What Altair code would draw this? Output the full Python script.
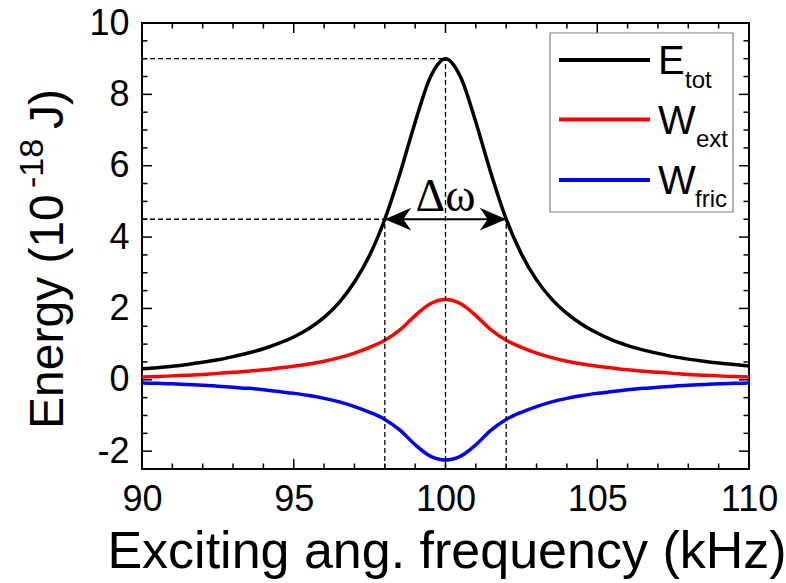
import altair as alt
import pandas as pd

# ---------------- data ----------------
freq = [90.0, 90.5, 91.0, 91.5, 92.0, 92.5, 93.0, 93.5, 94.0, 94.5,
        95.0, 95.5, 96.0, 96.5, 97.0, 97.5, 98.0, 98.5, 99.0, 99.5,
        100.0, 100.5, 101.0, 101.5, 102.0, 102.5, 103.0, 103.5, 104.0, 104.5,
        105.0, 105.5, 106.0, 106.5, 107.0, 107.5, 108.0, 108.5, 109.0, 109.5, 110.0]

e_tot = [0.31, 0.34, 0.38, 0.43, 0.49, 0.56, 0.65, 0.75, 0.87, 1.02,
         1.20, 1.44, 1.75, 2.17, 2.74, 3.49, 4.50, 5.78, 7.22, 8.48,
         9.00, 8.48, 7.22, 5.78, 4.50, 3.53, 2.80, 2.26, 1.86, 1.55,
         1.31, 1.11, 0.96, 0.84, 0.74, 0.65, 0.58, 0.52, 0.47, 0.43, 0.39]

w_ext = [0.08, 0.09, 0.11, 0.13, 0.15, 0.18, 0.21, 0.24, 0.28, 0.33,
         0.38, 0.44, 0.52, 0.62, 0.75, 0.91, 1.11, 1.40, 1.80, 2.13,
         2.25, 2.13, 1.80, 1.40, 1.11, 0.91, 0.75, 0.62, 0.52, 0.44,
         0.38, 0.33, 0.28, 0.24, 0.21, 0.18, 0.15, 0.13, 0.11, 0.09, 0.08]

w_fric = [-0.09, -0.10, -0.11, -0.13, -0.15, -0.18, -0.21, -0.24, -0.28, -0.33,
          -0.38, -0.44, -0.52, -0.62, -0.75, -0.91, -1.11, -1.41, -1.82, -2.14,
          -2.25, -2.14, -1.82, -1.41, -1.11, -0.91, -0.75, -0.62, -0.52, -0.44,
          -0.38, -0.33, -0.28, -0.24, -0.21, -0.18, -0.15, -0.13, -0.11, -0.10, -0.09]

series_names = ["E_tot", "W_ext", "W_fric"]
series_colors = ["#000000", "#ff0000", "#0000ff"]
legend_main = ["E", "W", "W"]
legend_sub = ["tot", "ext", "fric"]

# y title pieces: main text, superscript exponent, closing part
ytitle_parts = ["Energy (10", "-18", " J)"]

x_major = [90, 95, 100, 105, 110]
x_minor = [91, 92, 93, 94, 96, 97, 98, 99, 101, 102, 103, 104, 106, 107, 108, 109]
y_major = [-2, 0, 2, 4, 6, 8, 10]
y_minor = [-1.5, -1, -0.5, 0.5, 1, 1.5, 2.5, 3, 3.5, 4.5, 5, 5.5, 6.5, 7, 7.5,
           8.5, 9, 9.5]

# guide lines: (x, x2, y, y2) in data units
guide_x = [90, 90, 98, 102, 100]
guide_x2 = [100, 98, 98, 102, 100]
guide_y = [9, 4.5, -2.5, -2.5, -2.5]
guide_y2 = [9, 4.5, 4.5, 4.5, 9]

fwhm_lo, fwhm_hi, half_level = 98, 102, 4.5
peak_x = 100
label_level = 4.72

# ---------------- chart ----------------
W, H = 607, 446
FONT = "Liberation Sans"
SERIF = "Liberation Serif, Times New Roman, DejaVu Serif, serif"
xs = alt.Scale(domain=[90, 110], nice=False, zero=False)
ys = alt.Scale(domain=[-2.5, 10], nice=False, zero=False)

curves = pd.DataFrame({
    "freq": freq * 3,
    "energy": e_tot + w_ext + w_fric,
    "series": [series_names[0]] * len(freq) + [series_names[1]] * len(freq)
    + [series_names[2]] * len(freq),
})

x_axis = alt.Axis(values=x_major, ticks=False, tickSize=0, domain=False, grid=False,
                  labelFont=FONT, labelFontSize=36, labelColor="black",
                  labelPadding=13, labelFlush=False, labelExpr="toString(datum.value)",
                  title="Exciting ang. frequency (kHz)", titleFont=FONT,
                  titleFontSize=52, titleFontWeight="normal", titleColor="black",
                  titleX=W / 2 + 1, titleY=98, titleAlign="center",
                  titleBaseline="alphabetic")
y_axis = alt.Axis(values=y_major, ticks=False, tickSize=0, domain=False, grid=False,
                  labelFont=FONT, labelFontSize=36, labelColor="black",
                  labelPadding=13, labelFlush=False, labelExpr="toString(datum.value)",
                  title=None)


def X(field):
    return alt.X(field, scale=xs, axis=x_axis)


def Y(field):
    return alt.Y(field, scale=ys, axis=y_axis)


lines = alt.Chart(curves).mark_line(strokeWidth=3.5, interpolate="monotone").encode(
    x=X("freq:Q"),
    y=Y("energy:Q"),
    color=alt.Color("series:N", scale=alt.Scale(domain=series_names,
                                                range=series_colors), legend=None),
    detail="series:N",
)

guides_df = pd.DataFrame({"x": guide_x, "x2": guide_x2, "y": guide_y, "y2": guide_y2})
guides = alt.Chart(guides_df).mark_rule(color="black", strokeWidth=1.3,
                                        strokeDash=[5, 3]).encode(
    x=X("x:Q"), x2="x2:Q", y=Y("y:Q"), y2="y2:Q")

arrow_df = pd.DataFrame({"x": [fwhm_lo], "x2": [fwhm_hi], "y": [half_level]})
arrow_line = alt.Chart(arrow_df).mark_rule(color="black", strokeWidth=2).encode(
    x=X("x:Q"), x2="x2:Q", y=Y("y:Q"))

left_head = alt.Chart(pd.DataFrame({"x": [fwhm_lo], "y": [half_level]})).mark_point(
    shape="M0,0 L2,-0.86 L1.4,0 L2,0.86 Z", size=700, filled=True,
    color="black", opacity=1, strokeWidth=0).encode(x=X("x:Q"), y=Y("y:Q"))
right_head = alt.Chart(pd.DataFrame({"x": [fwhm_hi], "y": [half_level]})).mark_point(
    shape="M0,0 L-2,-0.86 L-1.4,0 L-2,0.86 Z", size=700, filled=True,
    color="black", opacity=1, strokeWidth=0).encode(x=X("x:Q"), y=Y("y:Q"))

dw_label = alt.Chart(pd.DataFrame({"x": [peak_x], "y": [label_level],
                                   "t": ["Δω"]})).mark_text(
    font=SERIF, fontSize=46, color="black", align="center",
    baseline="alphabetic").encode(x=X("x:Q"), y=Y("y:Q"), text="t:N")


# inward ticks on all four sides
def tick_layer(vals, horizontal, side, length):
    df = pd.DataFrame({"v": vals})
    m = alt.Chart(df).mark_rule(color="black", strokeWidth=1.5)
    if horizontal:
        if side == "bottom":
            return m.encode(x=X("v:Q"), y=alt.value(H), y2=alt.value(H - length))
        return m.encode(x=X("v:Q"), y=alt.value(0), y2=alt.value(length))
    if side == "left":
        return m.encode(y=Y("v:Q"), x=alt.value(0), x2=alt.value(length))
    return m.encode(y=Y("v:Q"), x=alt.value(W), x2=alt.value(W - length))


ticks = []
for side in ["bottom", "top"]:
    ticks.append(tick_layer(x_major, True, side, 10))
    ticks.append(tick_layer(x_minor, True, side, 5.5))
for side in ["left", "right"]:
    ticks.append(tick_layer(y_major, False, side, 10))
    ticks.append(tick_layer(y_minor, False, side, 5.5))

one = pd.DataFrame({"k": [0]})

# y-axis title built from pieces (superscript exponent)
ytitle_x = [-79, -99, -79]
ytitle_y = [406, 165, 106]
ytitle_size = [48, 34, 48]
ytitle_layers = []
for i in range(3):
    ytitle_layers.append(alt.Chart(one).mark_text(
        text=ytitle_parts[i], font=FONT, fontSize=ytitle_size[i], color="black",
        angle=270, align="left", baseline="alphabetic").encode(
        x=alt.value(ytitle_x[i]), y=alt.value(ytitle_y[i])))

# custom legend
legend_layers = [alt.Chart(one).mark_rect(fill="white", stroke="#808080",
                                          strokeWidth=1.2).encode(
    x=alt.value(408), x2=alt.value(591), y=alt.value(10), y2=alt.value(189))]
line_y = [37, 96.5, 157]
main_base = [51, 110.5, 170.5]
sub_base = [64.5, 124, 184]
sub_x = [543, 554, 553]
for i in range(3):
    legend_layers.append(alt.Chart(one).mark_rule(color=series_colors[i],
                                                  strokeWidth=4).encode(
        x=alt.value(417), x2=alt.value(508), y=alt.value(line_y[i])))
    legend_layers.append(alt.Chart(one).mark_text(
        text=legend_main[i], font=FONT, fontSize=40, color="black", align="left",
        baseline="alphabetic").encode(x=alt.value(516), y=alt.value(main_base[i])))
    legend_layers.append(alt.Chart(one).mark_text(
        text=legend_sub[i], font=FONT, fontSize=24, color="black", align="left",
        baseline="alphabetic").encode(x=alt.value(sub_x[i]), y=alt.value(sub_base[i])))

chart = alt.layer(lines, guides, arrow_line, left_head, right_head, dw_label,
                  *ticks, *ytitle_layers, *legend_layers).properties(
    width=W, height=H,
    autosize=alt.AutoSizeParams(type="none"),
    padding={"left": 142, "top": 23, "right": 37, "bottom": 114},
    background="white",
).configure_view(stroke="black", strokeWidth=2)

chart.save("out.html", embed_options={"renderer": "svg", "actions": False})
